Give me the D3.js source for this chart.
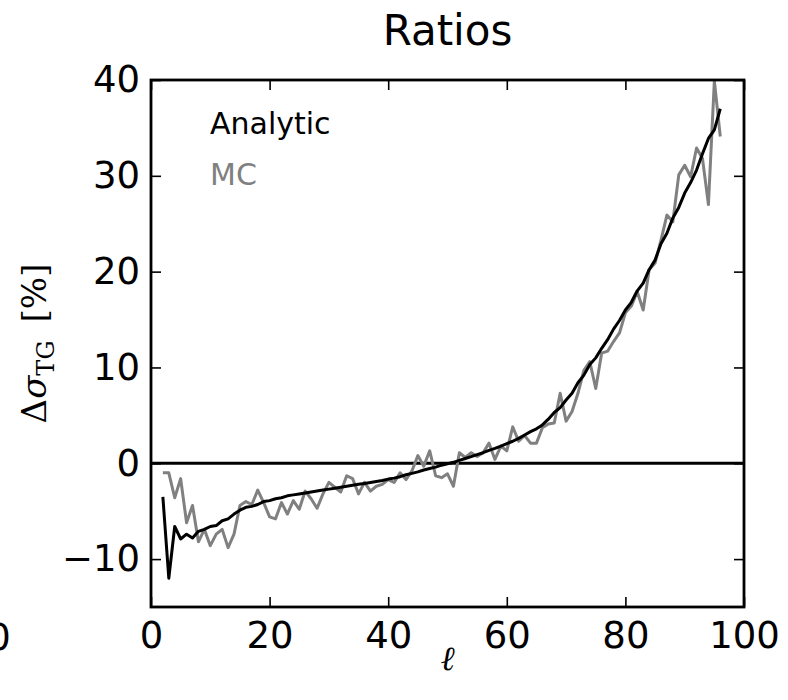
<!DOCTYPE html>
<html>
<head>
<meta charset="utf-8">
<script src="https://cdn.jsdelivr.net/npm/d3@7"></script>
<style>
  html, body { margin: 0; padding: 0; background: #fff; }
  svg { display: block; }
  text { font-family: "DejaVu Sans", sans-serif; }
</style>
</head>
<body>
<svg id="chart" width="788" height="700"></svg>
<script>
// ---- data ----
const ells = [2,3,4,5,6,7,8,9,10,11,12,13,14,15,16,17,18,19,20,21,22,23,24,25,26,27,28,29,30,31,32,33,34,35,36,37,38,39,40,41,42,43,44,45,46,47,48,49,50,51,52,53,54,55,56,57,58,59,60,61,62,63,64,65,66,67,68,69,70,71,72,73,74,75,76,77,78,79,80,81,82,83,84,85,86,87,88,89,90,91,92,93,94,95,96];

const analytic = [-3.5,-12.0,-6.6,-7.9,-7.4,-7.8,-7.1,-6.9,-6.6,-6.5,-6.0,-5.8,-5.3,-4.9,-4.6,-4.5,-4.3,-4.0,-3.9,-3.7,-3.6,-3.4,-3.3,-3.2,-3.1,-3.0,-2.9,-2.8,-2.7,-2.6,-2.5,-2.4,-2.3,-2.2,-2.1,-2.0,-1.9,-1.8,-1.65,-1.55,-1.4,-1.2,-1.05,-0.9,-0.7,-0.55,-0.4,-0.2,-0.05,0.1,0.3,0.5,0.7,0.9,1.1,1.35,1.55,1.8,2.05,2.3,2.6,2.95,3.3,3.6,4.0,4.6,5.3,5.8,6.6,7.3,8.4,9.2,10.3,11.0,12.0,12.9,14.0,14.9,16.0,16.8,18.0,18.8,20.2,21.2,22.9,24.0,25.6,26.7,28.2,29.3,30.6,32.3,33.9,34.8,37.0];

const mc = [-1.0,-1.0,-3.6,-1.6,-6.2,-4.4,-8.2,-6.9,-8.6,-7.4,-6.9,-8.8,-7.4,-4.4,-4.0,-4.3,-2.8,-4.1,-5.6,-5.8,-4.1,-5.3,-3.9,-4.8,-2.9,-3.7,-4.7,-3.2,-2.0,-2.5,-3.0,-1.3,-1.6,-3.2,-2.0,-2.9,-2.4,-2.2,-1.7,-2.0,-1.0,-1.7,-0.8,0.8,-0.3,1.3,-1.3,-1.5,-1.1,-2.4,1.1,0.6,1.1,0.7,1.1,2.1,0.4,1.8,1.3,3.8,2.3,2.9,2.1,2.1,3.7,4.1,4.2,7.3,4.4,5.4,7.3,9.7,10.6,7.8,11.5,11.7,12.7,13.6,15.7,16.4,17.9,16.0,20.2,20.9,23.3,25.9,25.2,30.1,31.1,29.9,32.9,31.8,27.0,39.9,34.1];

const xTicks = [0,20,40,60,80,100];
const yTicks = [-10,0,10,20,30,40];
const legendLabels = ["Analytic","MC"];
const titleText = "Ratios";

// ---- layout ----
const svg = d3.select("#chart");
const L = 151, R = 744, T = 80, B = 607;
const x = d3.scaleLinear().domain([0,100]).range([L,R]);
const y = d3.scaleLinear().domain([-15,40]).range([B,T]);
const fmt = d => d < 0 ? "\u2212" + Math.abs(d) : String(d);

// clip
svg.append("defs").append("clipPath").attr("id","clip")
  .append("rect").attr("x",L).attr("y",T).attr("width",R-L).attr("height",B-T);

const plot = svg.append("g").attr("clip-path","url(#clip)");

// zero line
plot.append("line").attr("x1",L).attr("x2",R).attr("y1",y(0)).attr("y2",y(0))
  .attr("stroke","#000").attr("stroke-width",2.8);

const line = d3.line().x((d,i)=>x(ells[i])).y(d=>y(d));

plot.append("path").datum(mc).attr("d",line)
  .attr("fill","none").attr("stroke","#808080").attr("stroke-width",3)
  .attr("stroke-linejoin","round");
plot.append("path").datum(analytic).attr("d",line)
  .attr("fill","none").attr("stroke","#000").attr("stroke-width",3)
  .attr("stroke-linejoin","round");

// axes: ticks inward on all four sides
const tickLen = 10;
const fs = 37;
const axB = d3.axisBottom(x).tickValues(xTicks).tickSizeInner(-tickLen).tickSizeOuter(0).tickPadding(15).tickFormat(fmt);
const axT = d3.axisTop(x).tickValues(xTicks).tickSizeInner(-tickLen).tickSizeOuter(0).tickFormat("");
const axL = d3.axisLeft(y).tickValues(yTicks).tickSizeInner(-tickLen).tickSizeOuter(0).tickPadding(11).tickFormat(fmt);
const axR = d3.axisRight(y).tickValues(yTicks).tickSizeInner(-tickLen).tickSizeOuter(0).tickFormat("");

function styleAxis(g){
  g.select(".domain").remove();
  g.selectAll(".tick line").attr("stroke","#000").attr("stroke-width",1.6);
  g.selectAll(".tick text").attr("fill","#000").style("font-size",fs+"px")
    .style("font-family","'DejaVu Sans', sans-serif");
}
svg.append("g").attr("transform",`translate(0,${B})`).call(axB).call(styleAxis);
svg.append("g").attr("transform",`translate(0,${T})`).call(axT).call(styleAxis);
svg.append("g").attr("transform",`translate(${L},0)`).call(axL).call(styleAxis);
svg.append("g").attr("transform",`translate(${R},0)`).call(axR).call(styleAxis);

// stray clipped tick label from neighbouring panel (cut off at the left edge, as in the reference)
svg.append("text").attr("x",-1).attr("y",B+43).attr("text-anchor","middle")
  .style("font-size",fs+"px").text("0");

// spines
svg.append("rect").attr("x",L).attr("y",T).attr("width",R-L).attr("height",B-T)
  .attr("fill","none").attr("stroke","#000").attr("stroke-width",2.8);

// title
svg.append("text").attr("x",(L+R)/2).attr("y",45).attr("text-anchor","middle")
  .style("font-size","42px").text(titleText);

// legend (text only, coloured)
const legColors = ["#000","#808080"];
svg.selectAll("text.leg").data(legendLabels).enter().append("text")
  .attr("class","leg").attr("x",210).attr("y",(d,i)=>134+i*51)
  .attr("fill",(d,i)=>legColors[i]).style("font-size","30px").text(d=>d);

// y label (centred on the axes, as matplotlib does)
const yl = svg.append("text")
  .attr("transform",`translate(46,${(T+B)/2}) rotate(-90)`)
  .attr("text-anchor","middle")
  .style("font-family","'DejaVu Serif', 'Liberation Serif', serif")
  .style("font-size","34px");
yl.append("tspan").text("Δ");
yl.append("tspan").style("font-style","italic").text("σ");
yl.append("tspan").attr("dy",8).style("font-size","24px").text("TG");
yl.append("tspan").attr("dy",-8).attr("dx",18).text("[%]");

// x label
svg.append("text").attr("x",(L+R)/2).attr("y",670).attr("text-anchor","middle")
  .style("font-family","'DejaVu Serif', serif").style("font-style","italic")
  .style("font-size","34px").text("ℓ");
</script>
</body>
</html>
